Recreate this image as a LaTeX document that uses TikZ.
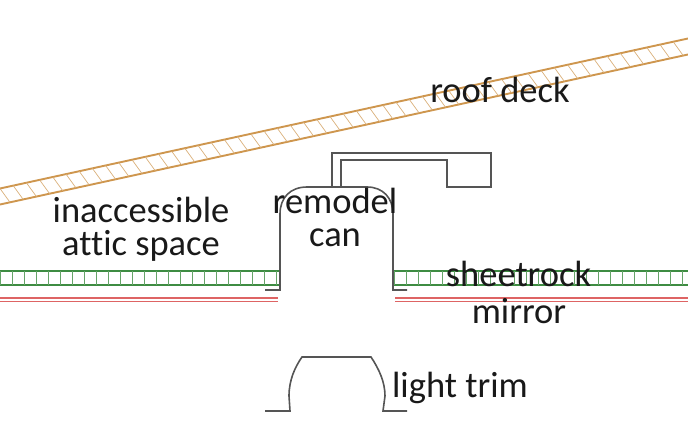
\documentclass[tikz,border=0pt]{standalone}
\usepackage{fontspec}
\setmainfont[Ligatures={NoCommon,NoContextual}]{Carlito}
\definecolor{roofc}{RGB}{206,150,78}
\definecolor{rockc}{RGB}{62,140,66}
\definecolor{mirrorc}{RGB}{222,100,100}
\definecolor{canc}{RGB}{85,85,85}

\begin{document}
\begin{tikzpicture}[
    x=1pt, y=-1pt,
    label/.style={align=center, text=black!90, font=\fontsize{36.5}{33}\selectfont, inner sep=0pt},
    roof/.style={roofc, line width=1.9pt},
    rooftick/.style={roofc!75, line width=0.7pt},
    rock/.style={rockc, line width=1.6pt},
    rocktick/.style={rockc!80, line width=0.7pt},
    mirror/.style={mirrorc, line width=1.7pt},
    can/.style={canc, line width=1.6pt}
]
\useasboundingbox (0,0) rectangle (688,441);

% Roof deck
\draw[roof] (0,188.5) -- (688,38.5);
\draw[roof] (0,204.5) -- (688,54.5);
\foreach \x in {0,13.2,...,680}
    \draw[rooftick] (\x,{188.5-0.218*\x}) -- ({\x+10},{204.5-0.218*(\x+10)});

% Sheetrock
\draw[rock] (0,271) -- (279,271);
\draw[rock] (0,285) -- (279,285);
\draw[rock] (394,271) -- (688,271);
\draw[rock] (394,285) -- (688,285);
\foreach \x in {0,12,...,276}
    \draw[rocktick] (\x,271) -- (\x,285);
\foreach \x in {394,406,...,688}
    \draw[rocktick] (\x,271) -- (\x,285);

% Mirror
\draw[mirror] (0,298) -- (278,298);
\draw[mirror] (0,301.5) -- (278,301.5);
\draw[mirror] (395,298) -- (688,298);
\draw[mirror] (395,301.5) -- (688,301.5);

% Remodel can
\draw[can] (265,290) -- (280,290) -- (280,214) .. controls (280,198) and (290,187) .. (307,187)
    -- (367,187) .. controls (383,187) and (393,198) .. (393,214) -- (393,290) -- (407,290);

% Junction box
\draw[can] (332,187) -- (332,153) -- (491,153) -- (491,187) -- (447,187) -- (447,160) -- (341,160) -- (341,187);

% Light trim
\draw[can] (265,411) -- (290,411) -- (289,396) .. controls (289,380) and (295,367) .. (302,357)
    -- (371,357) .. controls (379,369) and (385,382) .. (385,396) -- (383,411) -- (407,411);

% Labels
\node[label] (deck) at (500,90) {roof deck};
\node[label] (attic) at (141,229) {inaccessible\\attic space};
\node[label] (remodel) at (335,217) {remodel\\can};
\node[label] (sheetrock) at (518.5,274) {sheetrock};
\node[label] (mirrorlabel) at (519,311) {mirror};
\node[label] (trim) at (460,388) {light trim};

\end{tikzpicture}
\end{document}
